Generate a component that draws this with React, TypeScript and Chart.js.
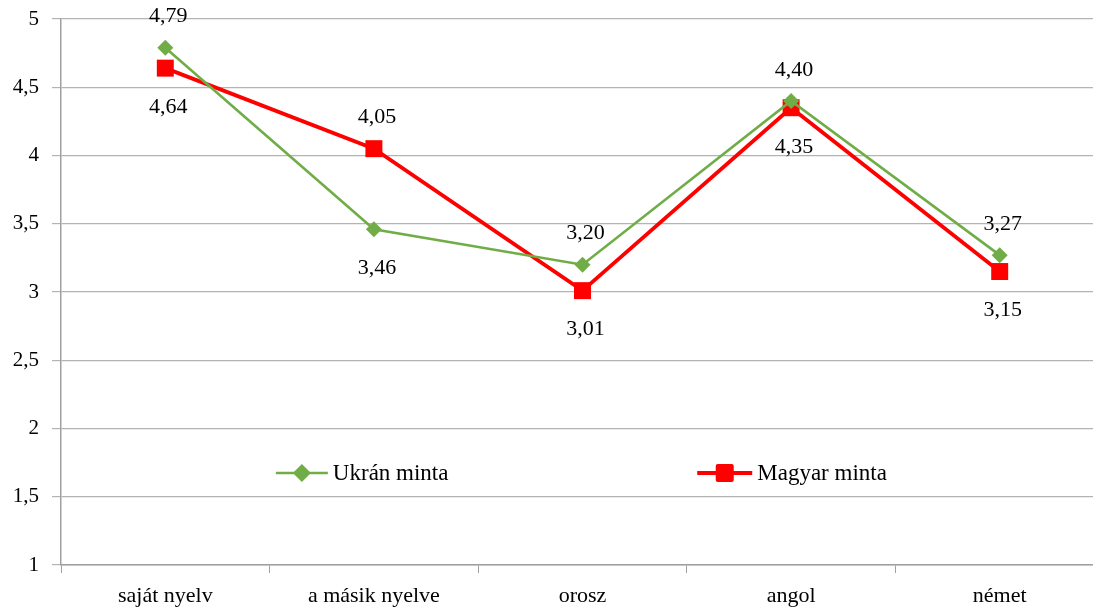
import React, { useEffect, useRef } from "react";
import { Chart, registerables } from "chart.js";

Chart.register(...registerables);

const categories = ["saját nyelv", "a másik nyelve", "orosz", "angol", "német"];
const ukranValues = [4.79, 3.46, 3.2, 4.4, 3.27];
const magyarValues = [4.64, 4.05, 3.01, 4.35, 3.15];
const ukranLabelPos = ["above", "below", "above", "above", "above"];
const magyarLabelPos = ["below", "above", "below", "below", "below"];

const fmt = (v: number, d?: number) =>
  (d !== undefined ? v.toFixed(d) : String(v)).replace(".", ",");

const labelPlugin = {
  id: "valueLabels",
  afterDatasetsDraw(chart: any) {
    const ctx = chart.ctx;
    ctx.save();
    ctx.font = "22px 'Liberation Serif'";
    ctx.fillStyle = "#000";
    ctx.textAlign = "center";
    ctx.textBaseline = "middle";
    chart.data.datasets.forEach((ds: any, i: number) => {
      const meta = chart.getDatasetMeta(i);
      meta.data.forEach((pt: any, j: number) => {
        const pos = ds.labelPos[j];
        const y = pos === "above" ? pt.y - 31 : pt.y + 39;
        ctx.fillText(fmt(ds.data[j], 2), pt.x + 3, y);
      });
    });
    ctx.restore();
  },
};

const legendPlugin = {
  id: "innerLegend",
  afterDraw(chart: any) {
    const ctx = chart.ctx;
    const ca = chart.chartArea;
    const w = ca.right - ca.left;
    const y = 473;
    const entries = [
      { x: ca.left + w * 0.206, len: 52, ds: chart.data.datasets[0] },
      { x: ca.left + w * 0.61, len: 55, ds: chart.data.datasets[1] },
    ];
    ctx.save();
    entries.forEach((e) => {
      const ds = e.ds;
      const len = e.len;
      ctx.strokeStyle = ds.borderColor;
      ctx.lineWidth = ds.borderWidth;
      ctx.beginPath();
      ctx.moveTo(e.x, y);
      ctx.lineTo(e.x + len, y);
      ctx.stroke();
      ctx.fillStyle = ds.pointBackgroundColor;
      const cx = e.x + len / 2;
      if (ds.pointStyle === "rectRot") {
        const r = 9;
        ctx.beginPath();
        ctx.moveTo(cx, y - r);
        ctx.lineTo(cx + r, y);
        ctx.lineTo(cx, y + r);
        ctx.lineTo(cx - r, y);
        ctx.closePath();
        ctx.fill();
      } else {
        ctx.beginPath();
        (ctx as any).roundRect(cx - 9, y - 9, 18, 18, 2);
        ctx.fill();
      }
      ctx.fillStyle = "#000";
      ctx.font = "23px 'Liberation Serif'";
      ctx.textAlign = "left";
      ctx.textBaseline = "middle";
      ctx.fillText(ds.label, e.x + len + 5, y + 1);
    });
    ctx.restore();
  },
};

export default function App() {
  const ref = useRef<HTMLCanvasElement | null>(null);
  useEffect(() => {
    if (!ref.current) return;
    const chart = new Chart(ref.current, {
      type: "line",
      data: {
        labels: categories,
        datasets: [
          {
            label: "Ukrán minta",
            data: ukranValues,
            borderColor: "#70ad47",
            backgroundColor: "#70ad47",
            pointBackgroundColor: "#70ad47",
            pointBorderColor: "#70ad47",
            borderWidth: 2.6,
            pointStyle: "rectRot",
            pointRadius: 8,
            pointBorderWidth: 0,
            tension: 0,
            labelPos: ukranLabelPos,
          } as any,
          {
            label: "Magyar minta",
            data: magyarValues,
            borderColor: "#ff0000",
            backgroundColor: "#ff0000",
            pointBackgroundColor: "#ff0000",
            pointBorderColor: "#ff0000",
            borderWidth: 3.8,
            pointStyle: "rect",
            pointRadius: 12,
            pointBorderWidth: 0,
            tension: 0,
            labelPos: magyarLabelPos,
          } as any,
        ],
      },
      options: {
        animation: false,
        responsive: false,
        maintainAspectRatio: false,
        layout: { padding: { top: 19, right: 0, left: 0, bottom: 0 } },
        plugins: {
          legend: { display: false },
          tooltip: { enabled: false },
        },
        scales: {
          x: {
            offset: true,
            grid: {
              offset: true,
              drawOnChartArea: false,
              drawTicks: true,
              tickLength: 8,
              color: "#a0a0a0",
            },
            border: { display: true, color: "#a0a0a0", width: 1.5 },
            ticks: {
              color: "#000",
              font: { family: "'Liberation Serif'", size: 22 },
              padding: 10,
              maxRotation: 0,
            },
            afterFit(scale: any) {
              scale.height = 46;
              scale.paddingLeft = 0;
              scale.paddingRight = 0;
            },
          },
          y: {
            min: 1,
            max: 5,
            ticks: {
              stepSize: 0.5,
              color: "#000",
              font: { family: "'Liberation Serif'", size: 21 },
              padding: 13,
              callback: (v: any) => fmt(Number(v)),
            },
            grid: { color: "#b4b4b4", tickLength: 9, lineWidth: 1.2 },
            border: { display: true, color: "#a0a0a0", width: 1.5 },
            afterFit(scale: any) {
              scale.width = 61;
              scale.paddingTop = 0;
              scale.paddingBottom = 0;
            },
          },
        },
      },
      plugins: [labelPlugin, legendPlugin],
    });
    return () => chart.destroy();
  }, []);
  return (
    <div
      style={{
        position: "fixed",
        left: 0,
        top: 0,
        width: 1116,
        height: 611,
        background: "#fff",
        overflow: "hidden",
      }}
    >
      <canvas ref={ref} width={1116} height={611} />
    </div>
  );
}
